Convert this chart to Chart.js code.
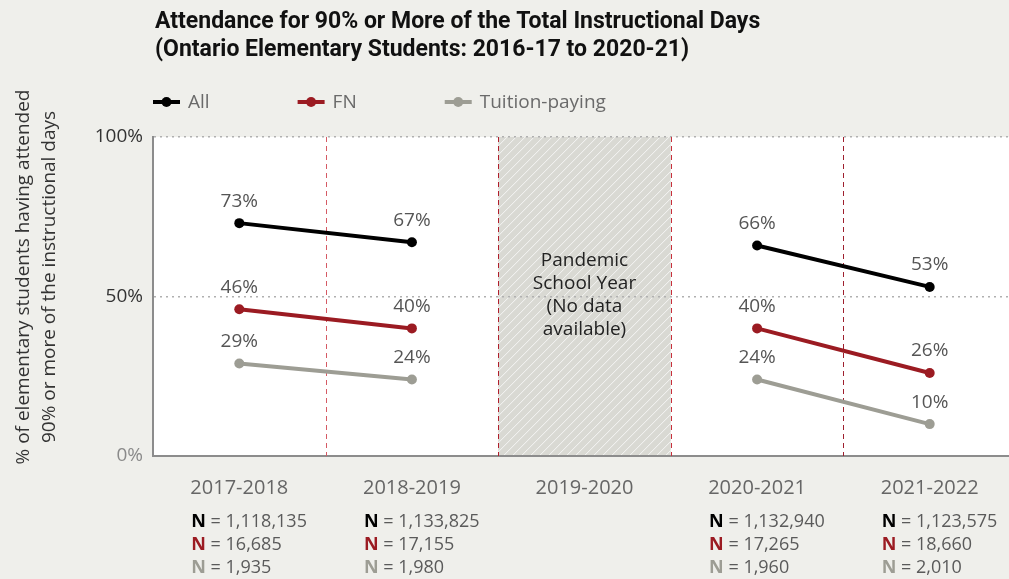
<!DOCTYPE html>
<html>
<head>
<meta charset="utf-8">
<script src="https://cdn.jsdelivr.net/npm/chart.js@4/dist/chart.umd.min.js"></script>
<style>
  html, body { margin: 0; padding: 0; background: #efefeb; overflow: hidden; width: 1009px; height: 579px; }
  #wrap { width: 1009px; height: 579px; overflow: hidden; }
  #c { display: block; }
</style>
</head>
<body>
<div id="wrap"><canvas id="c" width="1016" height="579" style="width:1016px;height:579px"></canvas></div>
<script>
// School years on the x axis
const schoolYears = ['2017-2018', '2018-2019', '2019-2020', '2020-2021', '2021-2022'];

// % of elementary students attending 90% or more of instructional days
const allStudents     = [73, 67, null, 66, 53];
const fnStudents      = [46, 40, null, 40, 26];
const tuitionStudents = [29, 24, null, 24, 10];

// Number of students per group and year
const nAll     = ['1,118,135', '1,133,825', null, '1,132,940', '1,123,575'];
const nFN      = ['16,685', '17,155', null, '17,265', '18,660'];
const nTuition = ['1,935', '1,980', null, '1,960', '2,010'];

const yTickValues = [0, 50, 100];
const seriesNames = ['All', 'FN', 'Tuition-paying'];
const pandemicYear = '2019-2020';
const pandemicNote = ['Pandemic', 'School Year', '(No data', 'available)'];
const chartTitle = ['Attendance for 90% or More of the Total Instructional Days',
                    '(Ontario Elementary Students: 2016-17 to 2020-21)'];
const yTitle = ['% of elementary students having attended',
                '90% or more of the instructional days'];

const COLORS = { all: '#000000', fn: '#9b1b22', tuition: '#9d9d94' };
const BODY_FONT = '"Open Sans", "Noto Sans", sans-serif';
const TITLE_FONT = '"Roboto", sans-serif';

// x pixel of the border between category i and i+1
function boundaryX(scale, i) {
  return (scale.getPixelForValue(i) + scale.getPixelForValue(i + 1)) / 2;
}

const decorations = {
  id: 'decorations',
  beforeDraw(chart) {
    const { ctx, chartArea: a, scales: { x } } = chart;
    ctx.save();
    ctx.fillStyle = '#efefeb';
    ctx.fillRect(0, 0, chart.width, chart.height);
    ctx.fillStyle = '#ffffff';
    ctx.fillRect(a.left, a.top, a.right - a.left, a.bottom - a.top);

    // hatched band for the year with no data
    const pi = schoolYears.indexOf(pandemicYear);
    const x0 = boundaryX(x, pi - 1), x1 = boundaryX(x, pi);
    ctx.fillStyle = '#d9d9d3';
    ctx.fillRect(x0, a.top, x1 - x0, a.bottom - a.top);
    ctx.beginPath();
    ctx.rect(x0, a.top, x1 - x0, a.bottom - a.top);
    ctx.clip();
    ctx.strokeStyle = 'rgba(255,255,255,0.75)';
    ctx.lineWidth = 1;
    const h = a.bottom - a.top;
    for (let sx = x0 - h; sx < x1 + 10; sx += 9) {
      ctx.beginPath();
      ctx.moveTo(sx, a.bottom);
      ctx.lineTo(sx + h, a.top);
      ctx.stroke();
    }
    ctx.restore();
  },
  beforeDatasetsDraw(chart) {
    const { ctx, chartArea: a, scales: { x } } = chart;
    const sepColors = ['#d55a64', '#b01e2c', '#c8303c', '#9e1f2e'];
    ctx.save();
    ctx.lineWidth = 1;
    ctx.setLineDash([5, 4]);
    for (let i = 0; i < schoolYears.length - 1; i++) {
      const bx = Math.round(boundaryX(x, i)) + 0.5;
      ctx.strokeStyle = sepColors[i];
      ctx.beginPath();
      ctx.moveTo(bx, a.top);
      ctx.lineTo(bx, a.bottom);
      ctx.stroke();
    }
    ctx.restore();
  },
  afterDatasetsDraw(chart) {
    const { ctx } = chart;
    ctx.save();
    ctx.font = '19px ' + BODY_FONT;
    ctx.fillStyle = '#555555';
    ctx.textAlign = 'center';
    ctx.textBaseline = 'middle';
    chart.data.datasets.forEach((ds, di) => {
      const meta = chart.getDatasetMeta(di);
      ds.data.forEach((v, i) => {
        if (v === null) return;
        const p = meta.data[i];
        ctx.fillText(v + '%', p.x, p.y - 22);
      });
    });
    ctx.restore();
  },
  afterDraw(chart) {
    const { ctx, chartArea: a, scales: { x } } = chart;
    ctx.save();

    // title
    ctx.fillStyle = '#111111';
    ctx.font = 'bold 23px ' + TITLE_FONT;
    ctx.textAlign = 'left';
    ctx.textBaseline = 'middle';
    ctx.fillText(chartTitle[0], 155, 22);
    ctx.fillText(chartTitle[1], 155, 50);

    // legend
    ctx.font = '19px ' + BODY_FONT;
    let lx = 153;
    const ly = 102;
    const legendColors = [COLORS.all, COLORS.fn, COLORS.tuition];
    seriesNames.forEach((name, i) => {
      ctx.strokeStyle = legendColors[i];
      ctx.fillStyle = legendColors[i];
      ctx.lineWidth = 4;
      ctx.beginPath();
      ctx.moveTo(lx, ly);
      ctx.lineTo(lx + 27, ly);
      ctx.stroke();
      ctx.beginPath();
      ctx.arc(lx + 13.5, ly, 5, 0, Math.PI * 2);
      ctx.fill();
      ctx.fillStyle = '#6a6a6a';
      ctx.fillText(name, lx + 35, ly + 1);
      lx += 35 + ctx.measureText(name).width + 88;
    });

    // y axis title (rotated)
    ctx.save();
    ctx.translate(0, 277);
    ctx.rotate(-Math.PI / 2);
    ctx.textAlign = 'center';
    ctx.fillStyle = '#333333';
    ctx.font = '19px ' + BODY_FONT;
    ctx.fillText(yTitle[0], 0, 24);
    ctx.fillText(yTitle[1], 0, 50);
    ctx.restore();

    // pandemic note
    const pi = schoolYears.indexOf(pandemicYear);
    ctx.fillStyle = '#222222';
    ctx.textAlign = 'center';
    ctx.font = '19px ' + BODY_FONT;
    const px = x.getPixelForValue(pi);
    pandemicNote.forEach((line, k) => ctx.fillText(line, px, 261 + k * 23));

    // N counts under each year
    ctx.textAlign = 'left';
    const rows = [[nAll, COLORS.all], [nFN, COLORS.fn], [nTuition, COLORS.tuition]];
    schoolYears.forEach((yr, i) => {
      if (nAll[i] === null) return;
      const sx = x.getPixelForValue(i) - 48;
      rows.forEach(([arr, col], r) => {
        const ry = a.bottom + 66 + r * 23;
        ctx.font = 'bold 18px ' + BODY_FONT;
        ctx.fillStyle = col;
        ctx.fillText('N', sx, ry);
        const w = ctx.measureText('N').width;
        ctx.font = '18px ' + BODY_FONT;
        ctx.fillStyle = '#5a5a5a';
        ctx.fillText(' = ' + arr[i], sx + w, ry);
      });
    });
    ctx.restore();
  }
};

new Chart(document.getElementById('c'), {
  type: 'line',
  data: {
    labels: schoolYears,
    datasets: [
      { label: seriesNames[0], data: allStudents, borderColor: COLORS.all, backgroundColor: COLORS.all },
      { label: seriesNames[1], data: fnStudents, borderColor: COLORS.fn, backgroundColor: COLORS.fn },
      { label: seriesNames[2], data: tuitionStudents, borderColor: COLORS.tuition, backgroundColor: COLORS.tuition }
    ].map(d => Object.assign(d, {
      borderWidth: 4, pointRadius: 5, pointHoverRadius: 5, pointBorderWidth: 0,
      pointBackgroundColor: d.borderColor, spanGaps: false, tension: 0, clip: false
    }))
  },
  options: {
    responsive: false,
    animation: false,
    devicePixelRatio: 1,
    layout: { autoPadding: false, padding: { top: 137, left: 0, right: 0, bottom: 0 } },
    plugins: { legend: { display: false }, title: { display: false }, tooltip: { enabled: false } },
    scales: {
      x: {
        offset: true,
        grid: { display: false, offset: true },
        border: { display: true, color: '#8c8c8c', width: 2 },
        ticks: { color: '#666666', font: { size: 20, family: BODY_FONT }, padding: 12, maxRotation: 0 },
        afterFit(scale) { scale.height = 123; }
      },
      y: {
        min: 0, max: 100,
        afterBuildTicks(scale) { scale.ticks = yTickValues.map(v => ({ value: v })); },
        afterFit(scale) { scale.width = 153; },
        grid: {
          color: c => (c.tick && c.tick.value === 0 ? 'rgba(0,0,0,0)' : '#b0b0b0'),
          lineWidth: 1.5, drawTicks: false
        },
        border: { display: true, color: '#8c8c8c', width: 2, dash: [2, 4] },
        ticks: {
          padding: 10,
          font: { size: 19, family: BODY_FONT },
          color: c => (c.tick && c.tick.value === 0 ? '#8a8a8a' : '#333333'),
          callback: v => v + '%'
        }
      }
    }
  },
  plugins: [decorations]
});
</script>
</body>
</html>
